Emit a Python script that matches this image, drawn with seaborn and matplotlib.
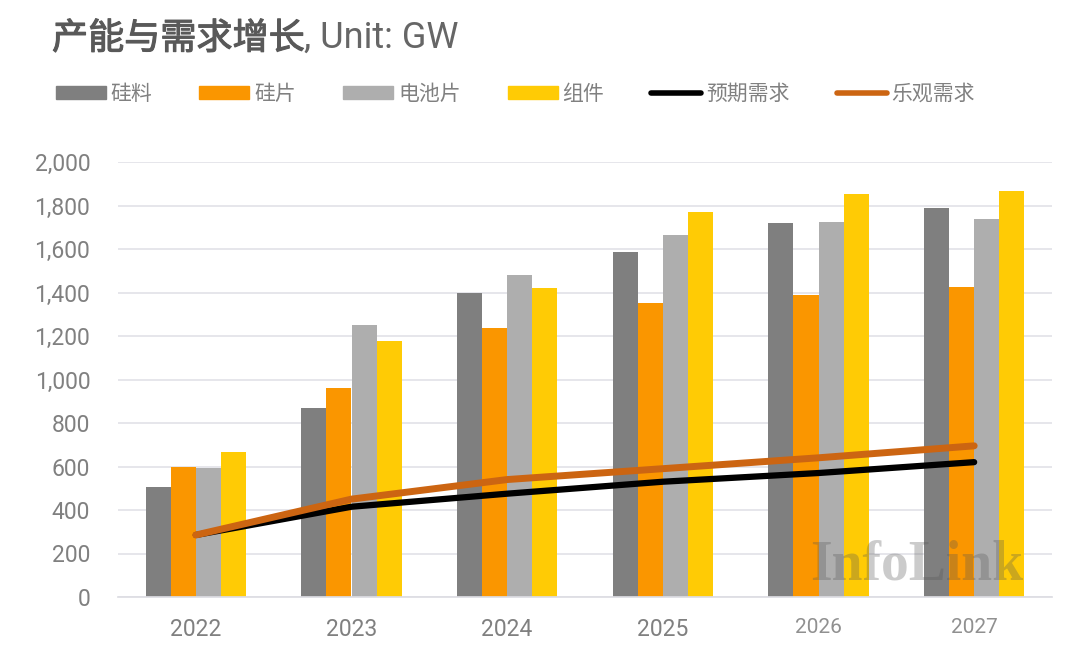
import pandas as pd
import matplotlib.pyplot as plt
import matplotlib.patheffects as pe
import seaborn as sns
from matplotlib.patches import Patch
from matplotlib.lines import Line2D

years = ["2022", "2023", "2024", "2025", "2026", "2027"]
silicon = [505, 870, 1400, 1585, 1720, 1790]
wafer = [597, 960, 1235, 1350, 1390, 1425]
cell = [595, 1250, 1480, 1665, 1725, 1740]
module = [665, 1175, 1420, 1770, 1855, 1865]
demand_base = [285, 415, 475, 530, 570, 620]
demand_high = [285, 450, 540, 590, 640, 695]

bar_names = ["硅料", "硅片", "电池片", "组件"]
bar_colors = ["#7F7F7F", "#FA9600", "#AEAEAE", "#FFCB05"]
y_ticks = [0, 200, 400, 600, 800, 1000, 1200, 1400, 1600, 1800, 2000]

sns.set_theme(style="white")
plt.rcParams['font.family'] = ['Noto Sans CJK SC', 'DejaVu Sans']

df = pd.DataFrame({"年份": years, "硅料": silicon, "硅片": wafer, "电池片": cell, "组件": module})
df = df.melt(id_vars="年份", var_name="类别", value_name="GW")

fig = plt.figure(figsize=(10.8, 6.71), dpi=100)
ax = fig.add_axes([118 / 1080, 1 - 597 / 671, (1052 - 118) / 1080, (597 - 162) / 671])

sns.barplot(data=df, x="年份", y="GW", hue="类别", hue_order=bar_names, palette=bar_colors,
            width=0.645, gap=0, saturation=1, linewidth=0, legend=False, ax=ax, zorder=2)
sns.lineplot(x=years, y=demand_base, color="black", linewidth=4.5, ax=ax, zorder=3)
sns.lineplot(x=years, y=demand_high, color="#CC6512", linewidth=5, ax=ax, zorder=4)

ax.set_xlim(-0.5, 5.5)
ax.set_ylim(0, 2000)
ax.set_yticks(y_ticks)
ax.set_yticklabels([f"{v:,}" for v in y_ticks], family="Roboto", fontsize=16.5, color="#808080")
ax.set_xlabel("")
ax.set_ylabel("")
ax.grid(axis="y", color="#E2E2E8", linewidth=1.2, zorder=0)
ax.set_axisbelow(True)
sns.despine(ax=ax, left=True, top=True, right=True)
ax.spines["bottom"].set_color("#DDDDE3")
ax.tick_params(axis="both", length=0)
ax.tick_params(axis="x", pad=15)
ax.tick_params(axis="y", pad=20)

# 最后两年的标签在原图里更小更淡
for i, lab in enumerate(ax.get_xticklabels()):
    lab.set_family("Roboto")
    lab.set_fontsize(16.5 if i < 4 else 15)
    lab.set_color("#808080" if i < 4 else "#909090")

# 字体没有 medium，用细描边加粗一点
title_cn = fig.text(52 / 1080, 1 - 39 / 671, "产能与需求增长", fontsize=26, color="#595959",
                    va="center", ha="left")
title_cn.set_path_effects([pe.withStroke(linewidth=0.8, foreground="#595959")])
fig.text(304 / 1080, 1 - 38 / 671, ", Unit: GW", fontsize=26, color="#666666",
         family="Roboto", va="center", ha="left")

handles = [Patch(color=c) for c in bar_colors]
handles.append(Line2D([0], [0], color="black", linewidth=4, solid_capstyle="round"))
handles.append(Line2D([0], [0], color="#CC6512", linewidth=4, solid_capstyle="round"))
labels = bar_names + ["预期需求", "乐观需求"]
fig.legend(handles, labels, ncol=6, frameon=False, loc="center left",
           bbox_to_anchor=(37 / 1080, 1 - 94 / 671), fontsize=15, labelcolor="#808080",
           handlelength=2.4, handleheight=0.55, handletextpad=0.24, columnspacing=2.25)

# 水印
fig.text(810 / 1080, 1 - 565 / 671, "InfoLink", fontsize=40, family="Liberation Serif",
         weight="bold", color="#555555", alpha=0.3, va="center", ha="left", zorder=10)

plt.savefig("out.png", dpi=100)
